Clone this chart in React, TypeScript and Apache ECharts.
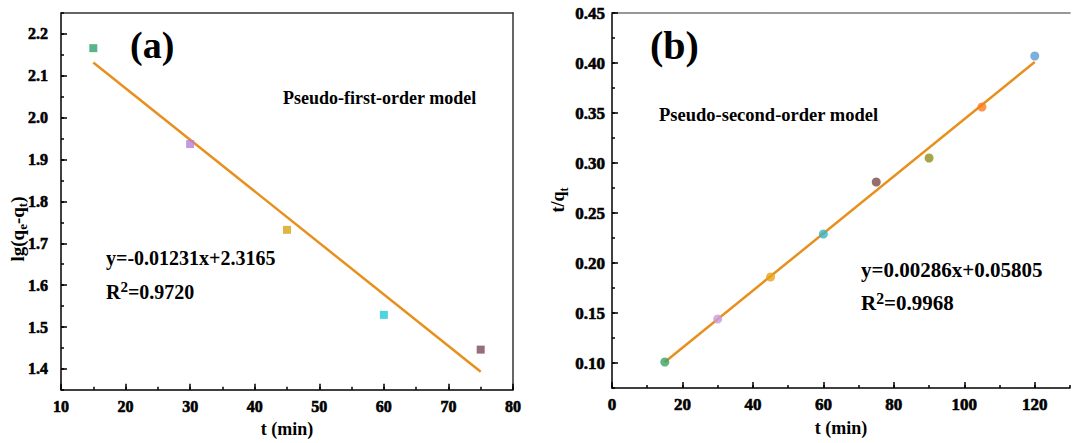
import React, { useEffect, useRef } from "react";
import * as echarts from "echarts";

// ---- Panel (a): pseudo-first-order ----
const timeA = [15, 30, 45, 60, 75];
const valuesA = [2.166, 1.937, 1.732, 1.529, 1.446];
const colorsA = ["#2fa06e", "#b57fdc", "#d4a418", "#22c8d8", "#7a4a55"];
const fitA = [
  [15, 2.132],
  [75, 1.393],
];
const xLabelsA = [10, 20, 30, 40, 50, 60, 70, 80];
const yLabelsA = [1.4, 1.5, 1.6, 1.7, 1.8, 1.9, 2.0, 2.1, 2.2];

// ---- Panel (b): pseudo-second-order ----
const timeB = [15, 30, 45, 60, 75, 90, 105, 120];
const valuesB = [0.101, 0.144, 0.186, 0.229, 0.281, 0.305, 0.356, 0.407];
const colorsB = ["#3aa264", "#c89be0", "#eaa21c", "#3ab5c0", "#7b4b4b", "#8f8f1a", "#ff7a1c", "#5b9bd0"];
const fitB = [
  [15, 0.101],
  [120, 0.401],
];
const xLabelsB = [0, 20, 40, 60, 80, 100, 120];
const yLabelsB = [0.1, 0.15, 0.2, 0.25, 0.3, 0.35, 0.4, 0.45];

const FONT = "'Liberation Serif', 'Times New Roman', serif";
const LINE = "#e8901e";

export default function App() {
  const ref = useRef<HTMLDivElement>(null);
  useEffect(() => {
    if (!ref.current) return;
    const chart = echarts.init(ref.current, null, { renderer: "svg" });

    const isIn = (v: number, list: number[]) => list.some((x) => Math.abs(x - v) < 1e-6);
    const label = (size: number, digits: number, values: number[], margin: number) => ({
      show: true,
      margin,
      fontFamily: FONT,
      fontWeight: 700,
      fontSize: size,
      color: "#000",
      textBorderColor: "#000",
      textBorderWidth: 0.6,
      hideOverlap: false,
      showMinLabel: true,
      showMaxLabel: true,
      formatter: (v: number) => (isIn(Number(v), values) ? Number(v).toFixed(digits) : ""),
    });
    const lineStyle = { color: "#000", width: 1.5 };
    const nameStyle = { fontFamily: FONT, fontWeight: "bold", fontSize: 18, color: "#000" };

    const txt = (x: number, y: number, text: string, size: number) => ({
      type: "text",
      x,
      y,
      z: 100,
      style: {
        text,
        fontFamily: FONT,
        fontWeight: "bold",
        fontSize: size,
        fill: "#000",
        align: "left",
        verticalAlign: "middle",
      },
    });

    const r2 = (x: number, y: number, val: string, size: number) => ({
      type: "text",
      x,
      y,
      z: 100,
      style: {
        text: `{m|R}{s|2}{m|=${val}}`,
        align: "left",
        verticalAlign: "middle",
        rich: {
          m: { fontFamily: FONT, fontWeight: "bold", fontSize: size, fill: "#000", lineHeight: 26, verticalAlign: "middle" },
          s: { fontFamily: FONT, fontWeight: "bold", fontSize: size * 0.75, fill: "#000", lineHeight: 10, verticalAlign: "top" },
        },
      },
    });

    const option: any = {
      animation: false,
      backgroundColor: "#fff",
      textStyle: { fontFamily: FONT, fontWeight: "bold", color: "#000" },
      grid: [
        { left: 61, top: 13, width: 452, height: 378, show: false },
        { left: 612, top: 13, width: 459, height: 375, show: false },
      ],
      xAxis: [
        {
          gridIndex: 0, type: "value", position: "bottom", min: 10, max: 80, interval: 5,
          axisLine: { show: true, lineStyle }, splitLine: { show: false },
          axisTick: { show: true, inside: true, length: 3, lineStyle },
          axisLabel: label(16, 0, xLabelsA, 9),
          name: "t (min)", nameLocation: "middle", nameGap: 29, nameTextStyle: nameStyle,
        },
        {
          gridIndex: 0, type: "value", position: "bottom", min: 10, max: 80,
          axisLine: { show: false }, splitLine: { show: false },
          axisTick: { show: true, inside: true, length: 6, lineStyle, customValues: xLabelsA },
          axisLabel: { show: false },
        },
        {
          gridIndex: 0, type: "value", position: "top", min: 10, max: 80,
          axisLine: { show: true, lineStyle: { color: "#333", width: 1.5 } },
          axisTick: { show: false }, axisLabel: { show: false }, splitLine: { show: false },
        },
        {
          gridIndex: 1, type: "value", position: "bottom", min: 0, max: 130, interval: 10,
          axisLine: { show: true, lineStyle }, splitLine: { show: false },
          axisTick: { show: true, inside: true, length: 3, lineStyle },
          axisLabel: label(17, 0, xLabelsB, 8),
          name: "t (min)", nameLocation: "middle", nameGap: 31, nameTextStyle: nameStyle,
        },
        {
          gridIndex: 1, type: "value", position: "bottom", min: 0, max: 130,
          axisLine: { show: false }, splitLine: { show: false },
          axisTick: { show: true, inside: true, length: 6, lineStyle, customValues: xLabelsB },
          axisLabel: { show: false },
        },
        {
          gridIndex: 1, type: "value", position: "top", min: 0, max: 130,
          axisLine: { show: true, lineStyle: { color: "#777", width: 1.5 } },
          axisTick: { show: false }, axisLabel: { show: false }, splitLine: { show: false },
        },
      ],
      yAxis: [
        {
          gridIndex: 0, type: "value", position: "left", min: 1.35, max: 2.25, interval: 0.05,
          axisLine: { show: true, lineStyle }, splitLine: { show: false },
          axisTick: { show: true, inside: true, length: 3, lineStyle },
          axisLabel: label(16, 1, yLabelsA, 13),
        },
        {
          gridIndex: 0, type: "value", position: "left", min: 1.35, max: 2.25,
          axisLine: { show: false }, splitLine: { show: false },
          axisTick: { show: true, inside: true, length: 6, lineStyle, customValues: yLabelsA },
          axisLabel: { show: false },
        },
        {
          gridIndex: 0, type: "value", position: "right", min: 1.35, max: 2.25,
          axisLine: { show: true, lineStyle: { color: "#333", width: 1.5 } },
          axisTick: { show: false }, axisLabel: { show: false }, splitLine: { show: false },
        },
        {
          gridIndex: 1, type: "value", position: "left", min: 0.075, max: 0.45, interval: 0.025,
          axisLine: { show: true, lineStyle }, splitLine: { show: false },
          axisTick: { show: true, inside: true, length: 3, lineStyle },
          axisLabel: label(17, 2, yLabelsB, 7),
        },
        {
          gridIndex: 1, type: "value", position: "left", min: 0.075, max: 0.45,
          axisLine: { show: false }, splitLine: { show: false },
          axisTick: { show: true, inside: true, length: 6, lineStyle, customValues: yLabelsB },
          axisLabel: { show: false },
        },
      ],
      series: [
        {
          type: "line", xAxisIndex: 0, yAxisIndex: 0, data: fitA, showSymbol: false, symbol: "none",
          lineStyle: { color: LINE, width: 2.5 }, z: 2,
        },
        {
          type: "scatter", xAxisIndex: 0, yAxisIndex: 0, symbol: "rect", symbolSize: 8, z: 3,
          data: timeA.map((t, i) => ({ value: [t, valuesA[i]], itemStyle: { color: colorsA[i] } })),
        },
        {
          type: "line", xAxisIndex: 3, yAxisIndex: 3, data: fitB, showSymbol: false, symbol: "none",
          lineStyle: { color: LINE, width: 2.5 }, z: 2,
        },
        {
          type: "scatter", xAxisIndex: 3, yAxisIndex: 3, symbol: "circle", symbolSize: 9, z: 3,
          data: timeB.map((t, i) => ({ value: [t, valuesB[i]], itemStyle: { color: colorsB[i] } })),
        },
      ],
      graphic: [
        txt(130, 45, "(a)", 38),
        txt(650, 45, "(b)", 40),
        txt(283, 98, "Pseudo-first-order model", 18),
        txt(659, 115, "Pseudo-second-order model", 18.5),
        txt(106, 258, "y=-0.01231x+2.3165", 20),
        r2(106, 292, "0.9720", 20),
        txt(861, 270, "y=0.00286x+0.05805", 21),
        r2(861, 303, "0.9968", 21),
        {
          type: "text", x: 17, y: 229, rotation: Math.PI / 2, z: 100,
          style: {
            text: "{m|lg(q}{s|e}{m|-q}{s|t}{m|)}",
            align: "center", verticalAlign: "middle",
            rich: {
              m: { fontFamily: FONT, fontWeight: "bold", fontSize: 19, fill: "#000", lineHeight: 24, verticalAlign: "middle" },
              s: { fontFamily: FONT, fontWeight: "bold", fontSize: 13, fill: "#000", lineHeight: 8, verticalAlign: "bottom" },
            },
          },
        },
        {
          type: "text", x: 558, y: 200, rotation: Math.PI / 2, z: 100,
          style: {
            text: "{m|t/q}{s|t}",
            align: "center", verticalAlign: "middle",
            rich: {
              m: { fontFamily: FONT, fontWeight: "bold", fontSize: 18, fill: "#000", lineHeight: 24, verticalAlign: "middle" },
              s: { fontFamily: FONT, fontWeight: "bold", fontSize: 12, fill: "#000", lineHeight: 8, verticalAlign: "bottom" },
            },
          },
        },
      ],
    };
    chart.setOption(option);
    return () => chart.dispose();
  }, []);

  return (
    <div
      ref={ref}
      style={{ position: "fixed", left: 0, top: 0, width: 1073, height: 443, background: "#fff" }}
    />
  );
}
